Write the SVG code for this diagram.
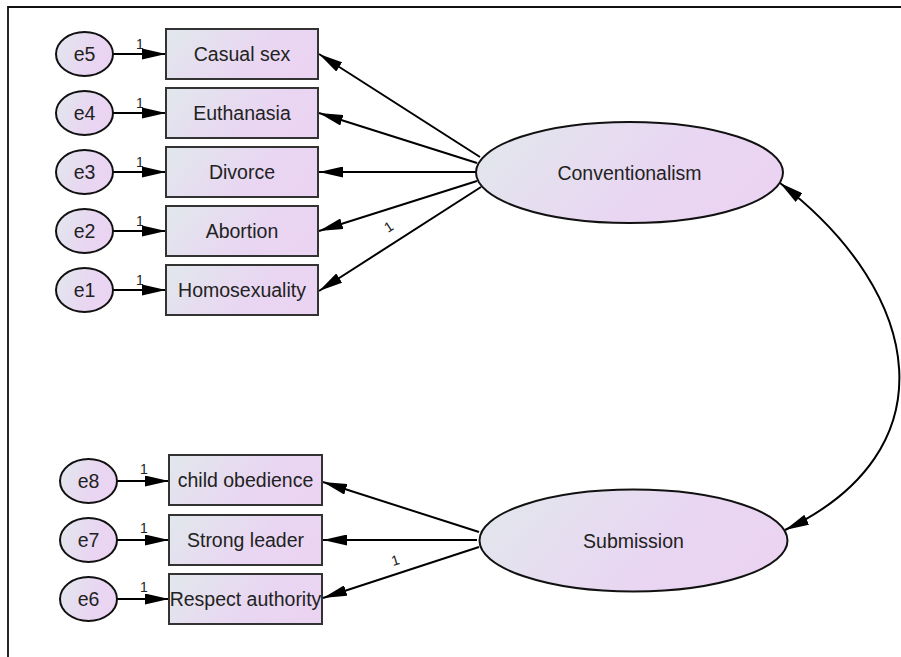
<svg xmlns="http://www.w3.org/2000/svg" width="901" height="657" viewBox="0 0 901 657">
<defs>
<linearGradient id="g" x1="0" y1="0" x2="1" y2="0.3">
<stop offset="0" stop-color="#e1e8ec"/>
<stop offset="0.7" stop-color="#e9d6f2"/>
<stop offset="1" stop-color="#ead4f2"/>
</linearGradient>
<marker id="ah" viewBox="0 0 24 11" refX="24" refY="5.5" markerWidth="24" markerHeight="11" markerUnits="userSpaceOnUse" orient="auto-start-reverse">
<path d="M0,0 L24,5.5 L0,11 z" fill="#000"/>
</marker>
<style>
.box{fill:url(#g);stroke:#333;stroke-width:2}
.ell{fill:url(#g);stroke:#111;stroke-width:2}
.t{font-family:"Liberation Sans",Arial,sans-serif;font-size:19.5px;fill:#222;text-anchor:middle}
.one{font-family:"Liberation Sans",Arial,sans-serif;font-size:14px;fill:#222}
.c{stroke:#000;stroke-width:2;fill:none;marker-end:url(#ah)}
.frame{stroke:#111;stroke-width:1.8;fill:none}
</style>
</defs>
<rect width="901" height="657" fill="#fff"/>
<path class="frame" d="M8,657 V7 H901"/>

<g id="connectors">
<line class="c" x1="113" y1="54" x2="166" y2="54"/>
<line class="c" x1="113" y1="113" x2="166" y2="113"/>
<line class="c" x1="113" y1="172" x2="166" y2="172"/>
<line class="c" x1="113" y1="231" x2="166" y2="231"/>
<line class="c" x1="113" y1="290" x2="166" y2="290"/>
<line class="c" x1="117" y1="481" x2="169" y2="481"/>
<line class="c" x1="117" y1="540" x2="169" y2="540"/>
<line class="c" x1="117" y1="599" x2="169" y2="599"/>
<line class="c" x1="480" y1="157" x2="319" y2="54"/>
<line class="c" x1="477" y1="163" x2="319" y2="113"/>
<line class="c" x1="476" y1="172" x2="319" y2="172"/>
<line class="c" x1="477" y1="181" x2="319" y2="231"/>
<line class="c" x1="481" y1="187" x2="319" y2="291"/>
<line class="c" x1="479" y1="532" x2="323" y2="482"/>
<line class="c" x1="477" y1="540" x2="323" y2="540"/>
<line class="c" x1="479" y1="547" x2="323" y2="598"/>
<path class="c" style="marker-start:url(#ah)" d="M780,183 C926,295 950,452 785,530"/>
<text class="one" x="136" y="49">1</text>
<text class="one" x="136" y="108">1</text>
<text class="one" x="136" y="167">1</text>
<text class="one" x="136" y="226">1</text>
<text class="one" x="136" y="285">1</text>
<text class="one" x="140" y="474">1</text>
<text class="one" x="140" y="533">1</text>
<text class="one" x="140" y="592">1</text>
<text class="one" transform="translate(388,233) rotate(-33)">1</text>
<text class="one" transform="translate(393,566) rotate(-17)">1</text>
</g>

<g id="e5"><ellipse class="ell" cx="84.5" cy="54" rx="28.5" ry="22"/><text class="t" x="84.5" y="61">e5</text></g>
<g id="e4"><ellipse class="ell" cx="84.5" cy="113" rx="28.5" ry="22"/><text class="t" x="84.5" y="120">e4</text></g>
<g id="e3"><ellipse class="ell" cx="84.5" cy="172" rx="28.5" ry="22"/><text class="t" x="84.5" y="179">e3</text></g>
<g id="e2"><ellipse class="ell" cx="84.5" cy="231" rx="28.5" ry="22"/><text class="t" x="84.5" y="238">e2</text></g>
<g id="e1"><ellipse class="ell" cx="84.5" cy="290" rx="28.5" ry="22"/><text class="t" x="84.5" y="297">e1</text></g>
<g id="e8"><ellipse class="ell" cx="88.5" cy="481" rx="28.5" ry="22"/><text class="t" x="88.5" y="488">e8</text></g>
<g id="e7"><ellipse class="ell" cx="88.5" cy="540" rx="28.5" ry="22"/><text class="t" x="88.5" y="547">e7</text></g>
<g id="e6"><ellipse class="ell" cx="88.5" cy="599" rx="28.5" ry="22"/><text class="t" x="88.5" y="606">e6</text></g>

<g id="casual"><rect class="box" x="166" y="29" width="152" height="50"/><text class="t" x="242" y="61">Casual sex</text></g>
<g id="euthanasia"><rect class="box" x="166" y="88" width="152" height="50"/><text class="t" x="242" y="120">Euthanasia</text></g>
<g id="divorce"><rect class="box" x="166" y="147" width="152" height="50"/><text class="t" x="242" y="179">Divorce</text></g>
<g id="abortion"><rect class="box" x="166" y="206" width="152" height="50"/><text class="t" x="242" y="238">Abortion</text></g>
<g id="homosexuality"><rect class="box" x="166" y="265" width="152" height="50"/><text class="t" x="242" y="297">Homosexuality</text></g>
<g id="child"><rect class="box" x="169" y="455" width="153" height="50"/><text class="t" x="245.5" y="487">child obedience</text></g>
<g id="strong"><rect class="box" x="169" y="515" width="153" height="50"/><text class="t" x="245.5" y="547">Strong leader</text></g>
<g id="respect"><rect class="box" x="169" y="574" width="153" height="50"/><text class="t" x="245.5" y="606">Respect authority</text></g>

<g id="conventionalism"><ellipse class="ell" cx="629.5" cy="172.5" rx="153.5" ry="50.5"/><text class="t" x="629.5" y="179.5">Conventionalism</text></g>
<g id="submission"><ellipse class="ell" cx="633.5" cy="540.5" rx="154" ry="51"/><text class="t" x="633.5" y="547.5">Submission</text></g>
</svg>
